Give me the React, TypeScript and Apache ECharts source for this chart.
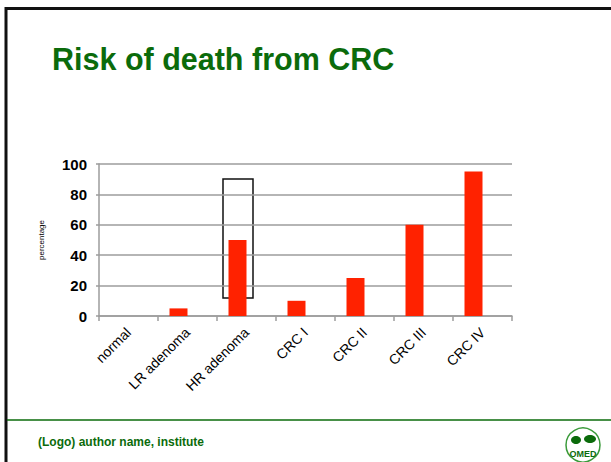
import React, { useEffect, useRef } from "react";
import * as echarts from "echarts";

const categories = ["normal", "LR adenoma", "HR adenoma", "CRC I", "CRC II", "CRC III", "CRC IV"];
const riskValues = [0, 5, 50, 10, 25, 60, 95];
const emptySeries = ["-", "-", "-", "-", "-", "-", "-"];
const yTicks = { min: 0, max: 100, interval: 20 };

const titleText = "Risk of death from CRC";
const footerText = "(Logo) author name, institute";
const yAxisName = "percentage";

const GREEN = "#0b6b0b";
const GRID_GRAY = "#9c9c9c";

export default function App() {
  const ref = useRef<HTMLDivElement>(null);
  useEffect(() => {
    if (!ref.current) return;
    const chart = echarts.init(ref.current, null, { renderer: "svg" });
    chart.setOption({
      animation: false,
      backgroundColor: "#ffffff",
      textStyle: { fontFamily: "Liberation Sans" },
      grid: { left: 99, right: 99, top: 164, bottom: 146, containLabel: false },
      xAxis: {
        type: "category",
        data: categories,
        boundaryGap: true,
        axisLine: { show: true, lineStyle: { color: GRID_GRAY, width: 1.5 } },
        axisTick: { show: true, length: 5, alignWithLabel: false, lineStyle: { color: GRID_GRAY, width: 1.5 } },
        axisLabel: {
          rotate: 45,
          margin: 14,
          interval: 0,
          color: "#000",
          fontSize: 14,
          fontFamily: "Liberation Sans",
        },
      },
      yAxis: {
        type: "value",
        min: yTicks.min,
        max: yTicks.max,
        interval: yTicks.interval,
        name: yAxisName,
        nameLocation: "middle",
        nameRotate: 90,
        nameGap: 54,
        nameTextStyle: { fontSize: 8, color: "#000", fontFamily: "Liberation Sans" },
        axisLine: { show: true, lineStyle: { color: GRID_GRAY, width: 1.5 } },
        axisTick: { show: true, length: 3, lineStyle: { color: GRID_GRAY, width: 1.5 } },
        axisLabel: {
          margin: 12,
          color: "#000",
          fontSize: 15,
          fontWeight: "bold",
          fontFamily: "Liberation Sans",
        },
        splitLine: { show: true, lineStyle: { color: GRID_GRAY, width: 1.5 } },
      },
      series: [
        {
          type: "bar",
          data: riskValues,
          barWidth: 18,
          barGap: "0%",
          itemStyle: { color: "#ff2200" },
        },
        {
          type: "bar",
          data: emptySeries,
          barWidth: 18,
          barGap: "0%",
          itemStyle: { color: "#ff2200" },
        },
      ],
      graphic: [
        { type: "line", shape: { x1: 5, y1: 8.5, x2: 611, y2: 8.5 }, style: { stroke: "#111", lineWidth: 3 } },
        { type: "line", shape: { x1: 6, y1: 7, x2: 6, y2: 462 }, style: { stroke: "#111", lineWidth: 3 } },
        { type: "line", shape: { x1: 7, y1: 420, x2: 611, y2: 420 }, style: { stroke: GREEN, lineWidth: 1.5 } },
        {
          type: "text",
          left: 52,
          top: 43,
          style: { text: titleText, fill: GREEN, font: "bold 30.5px 'Liberation Sans'" },
        },
        {
          type: "text",
          left: 38,
          top: 436,
          style: { text: footerText, fill: GREEN, font: "bold 12px 'Liberation Sans'" },
        },
        {
          type: "rect",
          shape: { x: 223, y: 179, width: 30, height: 119 },
          style: { fill: "none", stroke: "#111", lineWidth: 1.5 },
        },
        {
          type: "circle",
          shape: { cx: 583, cy: 445, r: 17 },
          style: { fill: "#fff", stroke: "#3a9a3a", lineWidth: 1.5 },
        },
        {
          type: "ellipse",
          shape: { cx: 576, cy: 440, rx: 5, ry: 4 },
          style: { fill: GREEN },
        },
        {
          type: "ellipse",
          shape: { cx: 590, cy: 439, rx: 6, ry: 4 },
          style: { fill: GREEN },
        },
        {
          type: "text",
          x: 583,
          y: 454,
          style: { text: "OMED", fill: GREEN, font: "bold 9px 'Liberation Sans'", align: "center", verticalAlign: "middle" },
        },
      ],
    });
    return () => chart.dispose();
  }, []);
  return <div ref={ref} style={{ position: "fixed", left: 0, top: 0, width: 611, height: 462 }} />;
}
